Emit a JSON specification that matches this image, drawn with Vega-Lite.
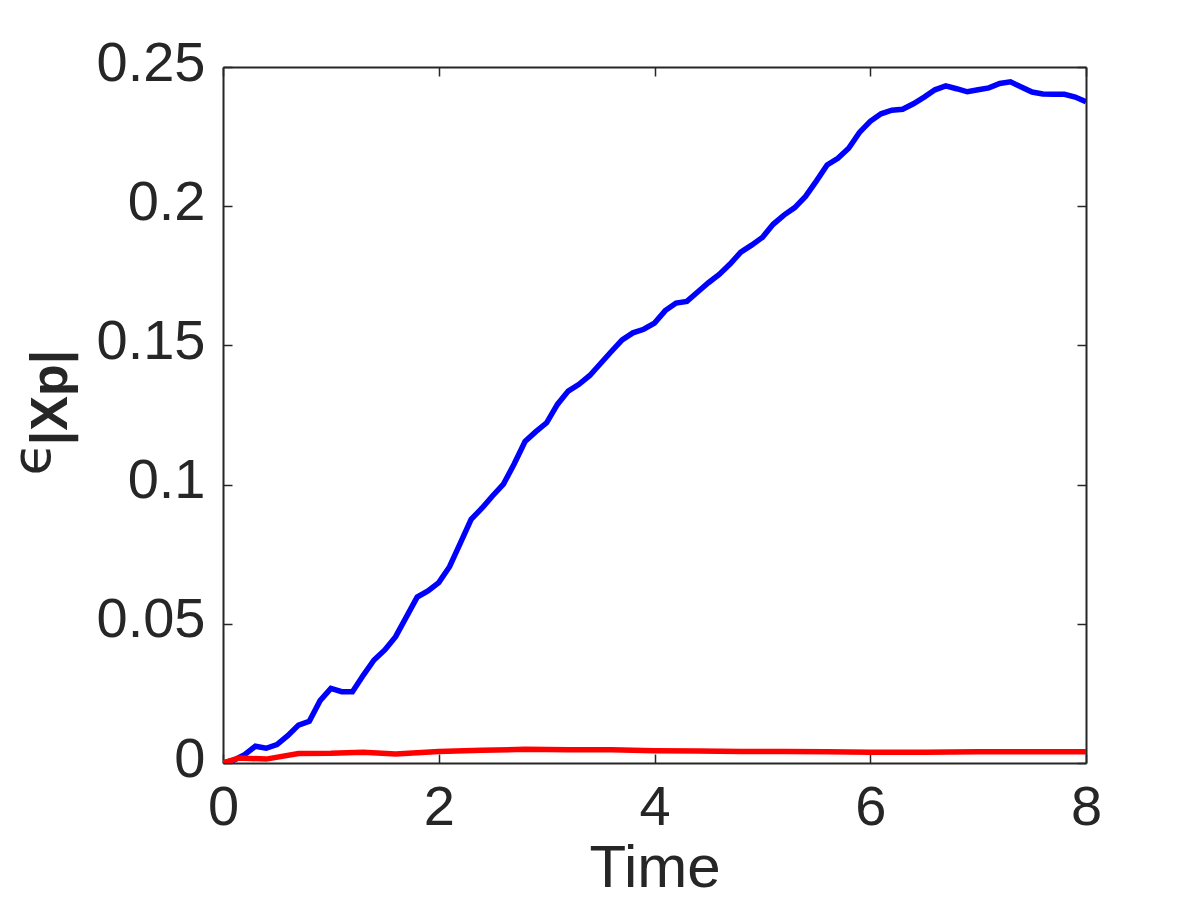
{
  "$schema": "https://vega.github.io/schema/vega-lite/v6.json",
  "width": 863,
  "height": 696,
  "autosize": {"type": "none"},
  "padding": {"left": 223, "top": 67, "right": 114, "bottom": 137},
  "background": "white",
  "config": {
    "view": {"stroke": null},
    "font": "Liberation Sans",
    "axis": {
      "domainColor": "#262626",
      "domainWidth": 2,
      "tickColor": "#262626",
      "tickWidth": 1.5,
      "tickSize": -9,
      "grid": false,
      "labelFlush": false,
      "labelColor": "#262626",
      "labelFont": "Liberation Sans",
      "labelFontSize": 56,
      "titleColor": "#262626",
      "titleFont": "Liberation Sans"
    }
  },
  "datasets": {
    "curves": [
      {"t": 0, "v": 0, "s": "b"},
      {"t": 0.1, "v": 0.001, "s": "b"},
      {"t": 0.2, "v": 0.003, "s": "b"},
      {"t": 0.3, "v": 0.006, "s": "b"},
      {"t": 0.4, "v": 0.0053, "s": "b"},
      {"t": 0.5, "v": 0.0066, "s": "b"},
      {"t": 0.6, "v": 0.0098, "s": "b"},
      {"t": 0.7, "v": 0.0136, "s": "b"},
      {"t": 0.8, "v": 0.015, "s": "b"},
      {"t": 0.9, "v": 0.0224, "s": "b"},
      {"t": 1.0, "v": 0.0268, "s": "b"},
      {"t": 1.1, "v": 0.0256, "s": "b"},
      {"t": 1.2, "v": 0.0256, "s": "b"},
      {"t": 1.3, "v": 0.0315, "s": "b"},
      {"t": 1.4, "v": 0.037, "s": "b"},
      {"t": 1.5, "v": 0.0406, "s": "b"},
      {"t": 1.6, "v": 0.0454, "s": "b"},
      {"t": 1.7, "v": 0.0525, "s": "b"},
      {"t": 1.8, "v": 0.0596, "s": "b"},
      {"t": 1.9, "v": 0.0618, "s": "b"},
      {"t": 2.0, "v": 0.0648, "s": "b"},
      {"t": 2.1, "v": 0.0705, "s": "b"},
      {"t": 2.2, "v": 0.079, "s": "b"},
      {"t": 2.3, "v": 0.0875, "s": "b"},
      {"t": 2.4, "v": 0.0915, "s": "b"},
      {"t": 2.5, "v": 0.096, "s": "b"},
      {"t": 2.6, "v": 0.1002, "s": "b"},
      {"t": 2.7, "v": 0.1075, "s": "b"},
      {"t": 2.8, "v": 0.1155, "s": "b"},
      {"t": 2.9, "v": 0.119, "s": "b"},
      {"t": 3.0, "v": 0.1222, "s": "b"},
      {"t": 3.1, "v": 0.1288, "s": "b"},
      {"t": 3.2, "v": 0.1336, "s": "b"},
      {"t": 3.3, "v": 0.136, "s": "b"},
      {"t": 3.4, "v": 0.1392, "s": "b"},
      {"t": 3.5, "v": 0.1435, "s": "b"},
      {"t": 3.6, "v": 0.1478, "s": "b"},
      {"t": 3.7, "v": 0.152, "s": "b"},
      {"t": 3.8, "v": 0.1545, "s": "b"},
      {"t": 3.9, "v": 0.1558, "s": "b"},
      {"t": 4.0, "v": 0.158, "s": "b"},
      {"t": 4.1, "v": 0.1625, "s": "b"},
      {"t": 4.2, "v": 0.1652, "s": "b"},
      {"t": 4.3, "v": 0.1658, "s": "b"},
      {"t": 4.4, "v": 0.1692, "s": "b"},
      {"t": 4.5, "v": 0.1725, "s": "b"},
      {"t": 4.6, "v": 0.1755, "s": "b"},
      {"t": 4.7, "v": 0.1792, "s": "b"},
      {"t": 4.8, "v": 0.1835, "s": "b"},
      {"t": 4.9, "v": 0.186, "s": "b"},
      {"t": 5.0, "v": 0.1888, "s": "b"},
      {"t": 5.1, "v": 0.1935, "s": "b"},
      {"t": 5.2, "v": 0.1968, "s": "b"},
      {"t": 5.3, "v": 0.1995, "s": "b"},
      {"t": 5.4, "v": 0.2035, "s": "b"},
      {"t": 5.5, "v": 0.209, "s": "b"},
      {"t": 5.6, "v": 0.2148, "s": "b"},
      {"t": 5.7, "v": 0.2172, "s": "b"},
      {"t": 5.8, "v": 0.2208, "s": "b"},
      {"t": 5.9, "v": 0.2265, "s": "b"},
      {"t": 6.0, "v": 0.2305, "s": "b"},
      {"t": 6.1, "v": 0.2332, "s": "b"},
      {"t": 6.2, "v": 0.2345, "s": "b"},
      {"t": 6.3, "v": 0.2348, "s": "b"},
      {"t": 6.4, "v": 0.2368, "s": "b"},
      {"t": 6.5, "v": 0.2392, "s": "b"},
      {"t": 6.6, "v": 0.2418, "s": "b"},
      {"t": 6.7, "v": 0.2432, "s": "b"},
      {"t": 6.8, "v": 0.2422, "s": "b"},
      {"t": 6.9, "v": 0.2411, "s": "b"},
      {"t": 7.0, "v": 0.2418, "s": "b"},
      {"t": 7.1, "v": 0.2425, "s": "b"},
      {"t": 7.2, "v": 0.2441, "s": "b"},
      {"t": 7.3, "v": 0.2447, "s": "b"},
      {"t": 7.4, "v": 0.2428, "s": "b"},
      {"t": 7.5, "v": 0.241, "s": "b"},
      {"t": 7.6, "v": 0.2403, "s": "b"},
      {"t": 7.7, "v": 0.2402, "s": "b"},
      {"t": 7.8, "v": 0.2402, "s": "b"},
      {"t": 7.9, "v": 0.2392, "s": "b"},
      {"t": 8.0, "v": 0.2375, "s": "b"},
      {"t": 0, "v": 0, "s": "r"},
      {"t": 0.15, "v": 0.0018, "s": "r"},
      {"t": 0.4, "v": 0.0014, "s": "r"},
      {"t": 0.7, "v": 0.0034, "s": "r"},
      {"t": 1.0, "v": 0.0035, "s": "r"},
      {"t": 1.3, "v": 0.0039, "s": "r"},
      {"t": 1.6, "v": 0.0032, "s": "r"},
      {"t": 2.0, "v": 0.0041, "s": "r"},
      {"t": 2.4, "v": 0.0046, "s": "r"},
      {"t": 2.8, "v": 0.0049, "s": "r"},
      {"t": 3.2, "v": 0.0048, "s": "r"},
      {"t": 3.6, "v": 0.0048, "s": "r"},
      {"t": 4.0, "v": 0.0044, "s": "r"},
      {"t": 4.4, "v": 0.0043, "s": "r"},
      {"t": 4.8, "v": 0.0041, "s": "r"},
      {"t": 5.2, "v": 0.0041, "s": "r"},
      {"t": 5.6, "v": 0.004, "s": "r"},
      {"t": 6.0, "v": 0.0039, "s": "r"},
      {"t": 6.5, "v": 0.0039, "s": "r"},
      {"t": 7.0, "v": 0.004, "s": "r"},
      {"t": 7.5, "v": 0.004, "s": "r"},
      {"t": 8.0, "v": 0.004, "s": "r"}
    ],
    "label": [{"txt": "ϵ"}]
  },
  "layer": [
    {
      "data": {"name": "curves"},
      "mark": {"type": "line", "strokeWidth": 5.5, "clip": true},
      "encoding": {
        "x": {
          "field": "t", "type": "quantitative",
          "scale": {"domain": [0, 8], "nice": false, "zero": false},
          "axis": {"orient": "bottom", "values": [0, 2, 4, 6, 8], "labelPadding": 26, "labelBaseline": "top",
                   "title": "Time", "titleFontSize": 60, "titleFontWeight": "normal", "titlePadding": 4}
        },
        "y": {
          "field": "v", "type": "quantitative",
          "scale": {"domain": [0, 0.25], "nice": false, "zero": false},
          "axis": {"orient": "left", "values": [0, 0.05, 0.1, 0.15, 0.2, 0.25], "labelPadding": 27, "labelOffset": -4, "format": "~g",
                   "title": "|Xp|", "titleFontSize": 52, "titleFontWeight": "bold",
                   "titleAngle": 270, "titleAlign": "center", "titleBaseline": "alphabetic",
                   "titleX": -157, "titleY": 330}
        },
        "color": {
          "field": "s", "type": "nominal",
          "scale": {"domain": ["b", "r"], "range": ["#0000ff", "#ff0000"]},
          "legend": null
        }
      }
    },
    {
      "data": {"name": "curves"},
      "mark": {"type": "point", "opacity": 0},
      "encoding": {
        "x": {
          "field": "t", "type": "quantitative",
          "axis": {"orient": "top", "values": [0, 2, 4, 6, 8], "labels": false, "title": null}
        },
        "y": {
          "field": "v", "type": "quantitative",
          "axis": {"orient": "right", "values": [0, 0.05, 0.1, 0.15, 0.2, 0.25], "labels": false, "title": null}
        }
      }
    },
    {
      "data": {"name": "label"},
      "mark": {"type": "text", "angle": 270, "align": "center", "baseline": "alphabetic", "fontSize": 54, "color": "#262626", "font": "DejaVu Sans"},
      "encoding": {
        "text": {"field": "txt"},
        "x": {"datum": -1.6, "type": "quantitative", "axis": null},
        "y": {"datum": 0.1092, "type": "quantitative", "axis": null}
      }
    }
  ],
  "resolve": {"axis": {"x": "independent", "y": "independent"}}
}
